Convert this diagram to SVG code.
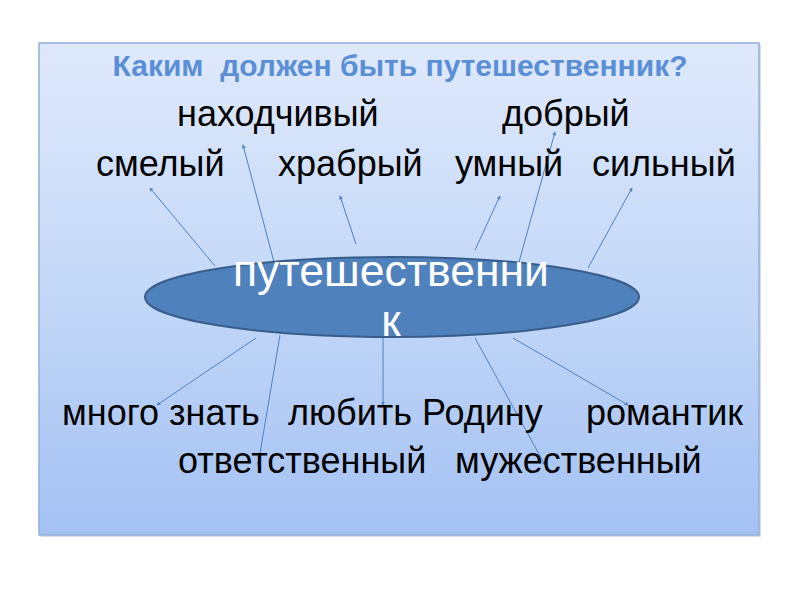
<svg xmlns="http://www.w3.org/2000/svg" width="800" height="600" viewBox="0 0 800 600">
<defs>
<linearGradient id="bg" x1="0" y1="0" x2="0" y2="1">
<stop offset="0" stop-color="#dfe9fc"/>
<stop offset="0.5" stop-color="#c4d8f8"/>
<stop offset="1" stop-color="#a3c1f3"/>
</linearGradient>
<marker id="ah" viewBox="0 0 6 6" refX="5" refY="3" markerWidth="4" markerHeight="4" orient="auto">
<path d="M0,0 L6,3 L0,6 z" fill="#4f81bd"/>
</marker>
<style>
.w{font-family:"Liberation Sans",Arial,sans-serif;font-size:36px;fill:#000}
.t{font-family:"Liberation Sans",Arial,sans-serif;font-size:30px;font-weight:bold;fill:#5a8fd8}
.c{font-family:"Liberation Sans",Arial,sans-serif;font-size:44.5px;fill:#fff}
.l{stroke:#4f81bd;stroke-width:1;fill:none;marker-end:url(#ah)}
</style>
</defs>
<rect x="41" y="45" width="720" height="492" fill="#8a9bb5" opacity="0.35"/>
<rect id="frame" x="39" y="43" width="720" height="492" fill="url(#bg)" stroke="#92aedb" stroke-width="1.5"/>
<text id="title" class="t" x="400" y="76" text-anchor="middle" xml:space="preserve">Каким  должен быть путешественник?</text>
<g id="connectors">
<line class="l" x1="215" y1="266" x2="150" y2="188"/>
<line class="l" x1="274" y1="262" x2="243" y2="145"/>
<line class="l" x1="356" y1="244" x2="340" y2="196"/>
<line class="l" x1="475" y1="250" x2="500" y2="196"/>
<line class="l" x1="519" y1="262" x2="555" y2="132"/>
<line class="l" x1="588" y1="268" x2="632" y2="188"/>
<line class="l" x1="256" y1="338" x2="157" y2="405"/>
<line class="l" x1="280" y1="335" x2="258" y2="465"/>
<line class="l" x1="383" y1="335" x2="383" y2="405"/>
<line class="l" x1="475" y1="338" x2="545" y2="465"/>
<line class="l" x1="513" y1="338" x2="628" y2="405"/>
</g>
<g id="center">
<ellipse cx="392" cy="297" rx="247" ry="40" fill="#4f81bd" stroke="#385d8a" stroke-width="2"/>
<text class="c" x="391" y="286" text-anchor="middle">путешественни</text>
<text class="c" x="391" y="336" text-anchor="middle">к</text>
</g>
<g id="n-nakhodchivy"><text class="w" x="177" y="126">находчивый</text></g>
<g id="n-dobry"><text class="w" x="502" y="126">добрый</text></g>
<g id="n-smely"><text class="w" x="96" y="176">смелый</text></g>
<g id="n-khrabry"><text class="w" x="278" y="176">храбрый</text></g>
<g id="n-umny"><text class="w" x="455" y="176">умный</text></g>
<g id="n-silny"><text class="w" x="592" y="176">сильный</text></g>
<g id="n-mnogo"><text class="w" x="62" y="425">много знать</text></g>
<g id="n-lyubit"><text class="w" x="288" y="425">любить Родину</text></g>
<g id="n-romantik"><text class="w" x="586" y="425">романтик</text></g>
<g id="n-otvetstv"><text class="w" x="178" y="473">ответственный</text></g>
<g id="n-muzhestv"><text class="w" x="455" y="473">мужественный</text></g>
</svg>
